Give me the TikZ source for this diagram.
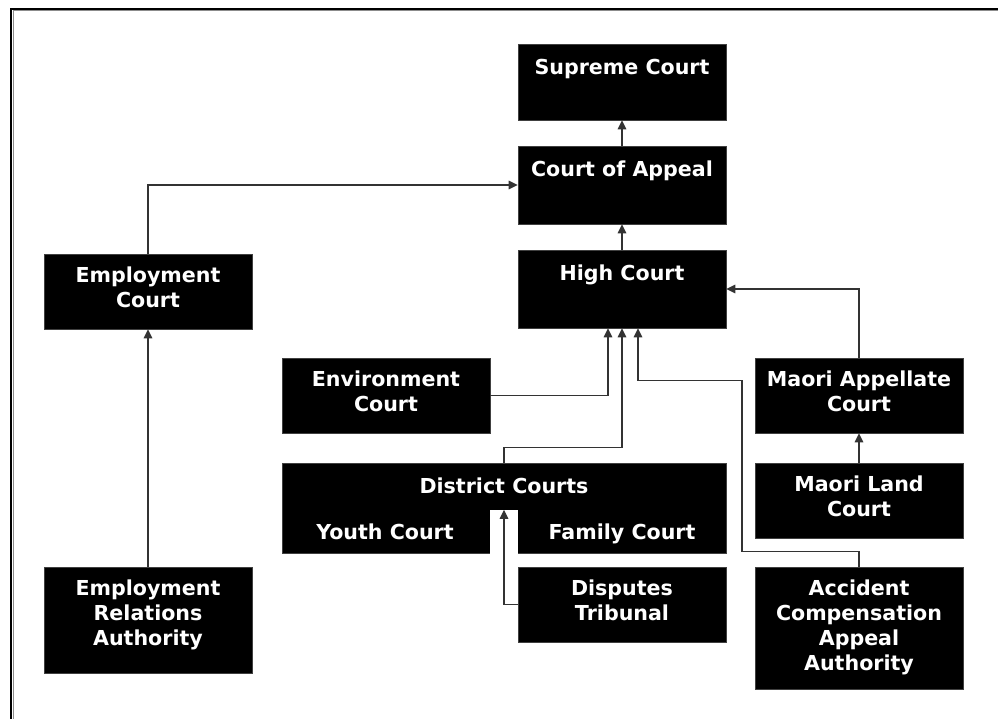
\documentclass[tikz,border=0pt]{standalone}
\usepackage{fontspec}
\setmainfont{DejaVu Sans}
\usetikzlibrary{arrows.meta}
\begin{document}
\begin{tikzpicture}[x=1pt,y=-1pt,
  box/.style={fill=black, draw=black!75, line width=0.6pt, inner sep=0pt},
  notch/.style={fill=white, inner sep=0pt},
  lbl/.style={text=white, font=\fontsize{20.6}{25}\selectfont\bfseries, align=center, inner sep=0pt, anchor=north, execute at begin node=\strut, yshift=-1.5pt},
  conn/.style={draw=black!80, line width=1.2pt, -{Triangle[length=9pt,width=8.5pt]}}
]
\useasboundingbox (0,0) rectangle (998,719);
% frame
\draw[black!45, line width=1pt] (13,719) -- (13,11) -- (998,11);
\draw[black, line width=2pt] (11,719) -- (11,9) -- (998,9);

% boxes
\node[box, minimum width=208pt, minimum height=76pt] (sc) at (622,82) {};
\node[box, minimum width=208pt, minimum height=78pt] (ca) at (622,185) {};
\node[box, minimum width=208pt, minimum height=78pt] (hc) at (622,289) {};
\node[box, minimum width=208pt, minimum height=75pt] (ec) at (148,291.5) {};
\node[box, minimum width=208pt, minimum height=75pt] (env) at (386,395.5) {};
\node[box, minimum width=208pt, minimum height=75pt] (mac) at (859,395.5) {};
\node[box, minimum width=444pt, minimum height=90pt] (dc) at (504,508) {};
\node[notch, minimum width=28pt, minimum height=45pt] (dcn) at (504,532.5) {};
\node[box, minimum width=208pt, minimum height=75pt] (mlc) at (859,500.5) {};
\node[box, minimum width=208pt, minimum height=106pt] (era) at (148,620) {};
\node[box, minimum width=208pt, minimum height=75pt] (dt) at (622,604.5) {};
\node[box, minimum width=208pt, minimum height=122pt] (acaa) at (859,628) {};

% labels
\node[lbl] (sct) at (622,54.85) {Supreme Court};
\node[lbl] (cat) at (622,156.85) {Court of Appeal};
\node[lbl] (hct) at (622,260.85) {High Court};
\node[lbl] (ect) at (148,264.85) {Employment\\Court};
\node[lbl] (envt) at (386,368.85) {Environment\\Court};
\node[lbl] (mact) at (859,368.85) {Maori Appellate\\Court};
\node[lbl] (dct) at (504,473.85) {District Courts};
\node[lbl] (yct) at (385,519.85) {Youth Court};
\node[lbl] (fct) at (622,519.85) {Family Court};
\node[lbl] (mlct) at (859,473.85) {Maori Land\\Court};
\node[lbl] (erat) at (148,577.85) {Employment\\Relations\\Authority};
\node[lbl] (dtt) at (622,577.85) {Disputes\\Tribunal};
\node[lbl] (acaat) at (859,577.85) {Accident\\Compensation\\Appeal\\Authority};

% connectors
\draw[conn] (ca.north) -- (sc.south);
\draw[conn] (hc.north) -- (ca.south);
\draw[conn] (ec.north) |- (ca.west);
\draw[conn] (era.north) -- (ec.south);
\draw[conn] (env.east) -| ([xshift=-14pt]hc.south);
\draw[conn] (dc.north) -- ++(0,-15) -| (hc.south);
\draw[conn] (acaa.north) -- ++(0,-15) -| ++(-117,-171) -| ([xshift=16pt]hc.south);
\draw[conn] (mac.north) |- (hc.east);
\draw[conn] (mlc.north) -- (mac.south);
\draw[conn] (dt.west) -| (dcn.north);
\end{tikzpicture}
\end{document}
